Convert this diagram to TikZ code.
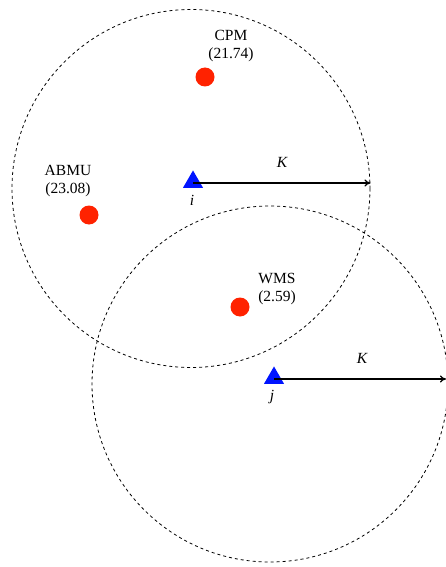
\documentclass[tikz,border=0pt]{standalone}
\usepackage{fontspec}
\setmainfont{Liberation Serif}
\usetikzlibrary{shapes.geometric,arrows.meta}
\definecolor{dotred}{RGB}{255,34,0}
\definecolor{triblue}{RGB}{0,20,255}
\tikzset{
  rangecircle/.style={draw=black, dash pattern=on 3pt off 3pt, line width=0.8pt},
  site/.style={fill=triblue, draw=none, isosceles triangle, isosceles triangle apex angle=60, shape border rotate=90, minimum height=17pt, minimum width=20pt, inner sep=0pt},
  poi/.style={circle, fill=dotred, draw=none, minimum size=19pt, inner sep=0pt},
  lab/.style={font=\fontsize{15.5}{18}\selectfont, align=center, inner sep=0pt},
  radius arrow/.style={-{To[length=6pt,width=7pt]}, line width=1.2pt},
}
\begin{document}
\begin{tikzpicture}[x=1pt,y=-1pt]
\useasboundingbox (0,0) rectangle (446,567);
% ranges
\draw[rangecircle] (191,188.5) circle[radius=179];
\draw[rangecircle] (270,384) circle[radius=178];
% sites
\node[site] (i) at (193,182) {};
\node[site] (j) at (274,378) {};
\coordinate (si) at (193,183);
\coordinate (sj) at (274,379);
\coordinate (ei) at (370.5,183);
\coordinate (ej) at (446,379);
\draw[radius arrow] (si) -- (ei);
\draw[radius arrow] (sj) -- (ej);
\node[lab] (ki) at (282,162) {\itshape K};
\node[lab] (kj) at (362,358) {\itshape K};
\node[lab] (li) at (192,200) {\itshape i};
\node[lab] (lj) at (272,397) {\itshape j};
% points of interest
\node[poi] (cpm) at (205,77) {};
\node[poi] (abmu) at (89,215) {};
\node[poi] (wms) at (240,307) {};
\node[lab] (tcpm) at (231,46) {CPM\\(21.74)};
\node[lab] (tabmu) at (68,181) {ABMU\\(23.08)};
\node[lab] (twms) at (277,289) {WMS\\(2.59)};
\end{tikzpicture}
\end{document}
